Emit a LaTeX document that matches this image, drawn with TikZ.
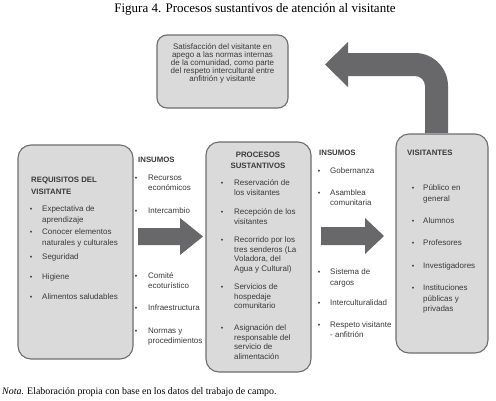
\documentclass[tikz,border=0pt]{standalone}
\usepackage{fontspec}
\setmainfont{Liberation Serif}
\newfontfamily\arial{Liberation Sans}
\definecolor{txt}{HTML}{3A3A3A}
\definecolor{boxfill}{HTML}{DADADA}
\definecolor{boxline}{HTML}{6E6E6E}
\definecolor{arrowgray}{HTML}{68686A}
\begin{document}
\begin{tikzpicture}[x=1pt,y=-1pt,
  panel/.style={draw=boxline,fill=boxfill,line width=1.1pt,rounded corners=13pt},
  itm/.style={font=\arial\fontsize{8}{9.6}\selectfont,anchor=base west,align=left,inner sep=0pt,text=txt},
  hd/.style={font=\arial\bfseries\fontsize{7.8}{11}\selectfont,anchor=base west,align=left,inner sep=0pt,text=txt},
  bul/.style={font=\arial\fontsize{7}{9}\selectfont,anchor=base,inner sep=0pt,text=txt},
  bigarrow/.style={fill=arrowgray,draw=none}]
\useasboundingbox (0,0) rectangle (496,400);
\fill[white] (0,0) rectangle (496,400);

% title
\node[font=\fontsize{13}{14}\selectfont,anchor=base,inner sep=0pt] (title) at (255,12) {Figura 4. Procesos sustantivos de atención al visitante};

% bent arrow (behind boxes)
\path[bigarrow] (425,133) -- (425,86) arc[start angle=0,end angle=-90,radius=10] -- (348,76) -- (348,87) -- (325,64.5) -- (348,42) -- (348,53) -- (415,53) arc[start angle=-90,end angle=0,radius=33] -- (448,133) -- cycle;

% boxes
\draw[panel,rounded corners=10pt] (157,35) rectangle (288,108);
\node[font=\arial\fontsize{8}{8.1}\selectfont,align=center,anchor=base,inner sep=0pt,text=txt] (sat) at (222.5,81.5) {Satisfacción del visitante en\\apego a las normas internas\\de la comunidad, como parte\\del respeto intercultural entre\\anfitrión y visitante};

\draw[panel] (18,145) rectangle (133,359);
\draw[panel] (206,142) rectangle (311,372);
\draw[panel] (396,134) rectangle (488,353);

% straight arrows
\path[bigarrow] (138,228) -- (180,228) -- (180,218) -- (203,236.5) -- (180,255) -- (180,245) -- (138,245) -- cycle;
\path[bigarrow] (321,227) -- (365,227) -- (365,218) -- (384,236) -- (365,254) -- (365,245) -- (321,245) -- cycle;

% left box
\node[hd,font=\arial\bfseries\fontsize{7.8}{12}\selectfont] (reqh) at (31,194.5) {REQUISITOS DEL\\VISITANTE};
\node[bul] (rb1) at (31,211.5) {•}; \node[itm,font=\arial\fontsize{8}{10.5}\selectfont] (r1) at (42,222) {Expectativa de\\aprendizaje};
\node[bul] (rb2) at (31,234.5) {•}; \node[itm,font=\arial\fontsize{8}{10.5}\selectfont] (r2) at (42,245) {Conocer elementos\\naturales y culturales};
\node[bul] (rb3) at (31,259.5) {•}; \node[itm] (r3) at (42,259.5) {Seguridad};
\node[bul] (rb4) at (31,279.5) {•}; \node[itm] (r4) at (42,279.5) {Higiene};
\node[bul] (rb5) at (31,299.5) {•}; \node[itm] (r5) at (42,299.5) {Alimentos saludables};

% left insumos
\node[hd] (ins1) at (138,162.5) {INSUMOS};
\node[bul] (ib1) at (136,180.5) {•}; \node[itm] (i1) at (148,190.1) {Recursos\\económicos};
\node[bul] (ib2) at (136,213.5) {•}; \node[itm] (i2) at (148,213.5) {Intercambio};
\node[bul] (ib3) at (136,278.5) {•}; \node[itm] (i3) at (148,288.1) {Comité\\ecoturístico};
\node[bul] (ib4) at (136,310.5) {•}; \node[itm] (i4) at (148,310.5) {Infraestructura};
\node[bul] (ib5) at (136,333.5) {•}; \node[itm] (i5) at (148,343.1) {Normas y\\procedimientos};

% middle box
\node[hd,anchor=base,align=center] (proch) at (258,168.5) {PROCESOS\\SUSTANTIVOS};
\node[bul] (pb1) at (222,185.5) {•}; \node[itm] (p1) at (234,195.1) {Reservación de\\los visitantes};
\node[bul] (pb2) at (222,214.5) {•}; \node[itm] (p2) at (234,224.1) {Recepción de los\\visitantes};
\node[bul] (pb3) at (222,242.5) {•}; \node[itm] (p3) at (234,271.3) {Recorrido por los\\tres senderos (La\\Voladora, del\\Agua y Cultural)};
\node[bul] (pb4) at (222,289.5) {•}; \node[itm] (p4) at (234,308.7) {Servicios de\\hospedaje\\comunitario};
\node[bul] (pb5) at (222,330.5) {•}; \node[itm] (p5) at (234,359.3) {Asignación del\\responsable del\\servicio de\\alimentación};

% right insumos
\node[hd] (ins2) at (319,155.5) {INSUMOS};
\node[bul] (jb1) at (319,173.5) {•}; \node[itm] (j1) at (330,173.5) {Gobernanza};
\node[bul] (jb2) at (319,195.5) {•}; \node[itm] (j2) at (330,205.1) {Asamblea\\comunitaria};
\node[bul] (jb3) at (319,274.5) {•}; \node[itm,font=\arial\fontsize{8}{11}\selectfont] (j3) at (330,285.5) {Sistema de\\cargos};
\node[bul] (jb4) at (319,305.5) {•}; \node[itm] (j4) at (330,305.5) {Interculturalidad};
\node[bul] (jb5) at (319,327.5) {•}; \node[itm] (j5) at (330,337.1) {Respeto visitante\\- anfitrión};

% right box
\node[hd] (vish) at (407,155.5) {VISITANTES};
\node[bul] (vb1) at (413,190.5) {•}; \node[itm,font=\arial\fontsize{8}{11}\selectfont] (v1) at (423,201.5) {Público en\\general};
\node[bul] (vb2) at (413,223.5) {•}; \node[itm] (v2) at (423,223.5) {Alumnos};
\node[bul] (vb3) at (413,245.5) {•}; \node[itm] (v3) at (423,245.5) {Profesores};
\node[bul] (vb4) at (413,268.5) {•}; \node[itm] (v4) at (423,268.5) {Investigadores};
\node[bul] (vb5) at (413,290.5) {•}; \node[itm,font=\arial\fontsize{8}{10.5}\selectfont] (v5) at (423,311.5) {Instituciones\\públicas y\\privadas};

% note
\node[font=\fontsize{9.9}{11}\selectfont,anchor=base west,inner sep=0pt] (nota) at (2,394.5) {\textit{Nota}. Elaboración propia con base en los datos del trabajo de campo.};
\end{tikzpicture}
\end{document}
